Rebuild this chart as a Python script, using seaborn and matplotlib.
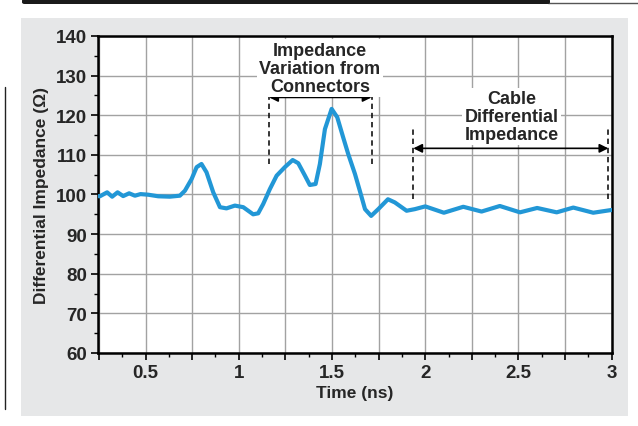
import matplotlib
matplotlib.use("Agg")
import matplotlib.pyplot as plt
import seaborn as sns
import pandas as pd
from matplotlib.patches import Rectangle, FancyBboxPatch
from matplotlib.lines import Line2D
from matplotlib.ticker import MultipleLocator, FuncFormatter

# TDR trace: time (ns) vs differential impedance (ohm)
time_ns = [0.245, 0.255, 0.294, 0.321, 0.35, 0.38, 0.412, 0.443, 0.473, 0.514,
           0.568, 0.63, 0.684, 0.711, 0.747, 0.774, 0.80, 0.827, 0.863, 0.899,
           0.934, 0.979, 1.024, 1.077, 1.104, 1.131, 1.167, 1.203, 1.247, 1.289,
           1.319, 1.355, 1.381, 1.412, 1.435, 1.462, 1.498, 1.528, 1.560, 1.587,
           1.623, 1.65, 1.677, 1.710, 1.748, 1.80, 1.837, 1.90, 1.944, 2.0,
           2.10, 2.204, 2.302, 2.40, 2.508, 2.60, 2.705, 2.794, 2.901, 3.0]
impedance = [99.6, 99.55, 100.55, 99.45, 100.55, 99.6, 100.3, 99.7, 100.1, 99.95,
             99.55, 99.45, 99.7, 100.95, 103.9, 106.9, 107.7, 105.6, 100.55, 96.8,
             96.5, 97.2, 96.8, 95.0, 95.25, 97.6, 101.4, 104.75, 106.9, 108.7,
             107.9, 104.75, 102.4, 102.65, 107.7, 116.5, 121.6, 119.5, 114.4, 110.2,
             105.2, 100.8, 96.3, 94.6, 96.3, 98.8, 98.0, 95.9, 96.3, 97.0,
             95.4, 96.9, 95.7, 97.1, 95.5, 96.6, 95.5, 96.7, 95.4, 96.1]

x_label = "Time (ns)"
y_label = "Differential Impedance (\u03a9)"
connector_label = "Impedance\nVariation from\nConnectors"
cable_label = "Cable\nDifferential\nImpedance"
connector_span = (1.163, 1.712)
cable_span = (1.936, 2.982)

sns.set_theme(style="white")
plt.rcParams["font.family"] = ["Liberation Sans", "DejaVu Sans"]

W, H = 638, 427
fig = plt.figure(figsize=(W / 100, H / 100), dpi=100)
fig.patch.set_facecolor("white")

def fx(px):
    return px / W

def fy(py):
    return 1 - py / H

# gray panel behind the chart
fig.patches.append(Rectangle((fx(21), fy(417)), fx(628) - fx(21), fy(19) - fy(417),
                             transform=fig.transFigure, facecolor="#e6e7e8",
                             edgecolor="none", zorder=-5))
# dark header strip
fig.patches.append(FancyBboxPatch((fx(22), fy(5)), fx(550) - fx(22), fy(0) - fy(5),
                                  boxstyle="round,pad=0,rounding_size=0.004",
                                  transform=fig.transFigure, facecolor="#1a1a1a",
                                  edgecolor="none", zorder=-4))
fig.lines.append(Line2D([fx(548), fx(638)], [fy(3.5), fy(3.5)], transform=fig.transFigure,
                        color="#555555", lw=1.0, zorder=-4))
# side rule
fig.lines.append(Line2D([fx(4.5), fx(4.5)], [fy(88), fy(410)], transform=fig.transFigure,
                        color="#222222", lw=1.0, zorder=-4))

ax = fig.add_axes([fx(98), fy(354), fx(611.7) - fx(98), fy(37) - fy(354)])
ax.set_facecolor("white")

df = pd.DataFrame({"t": time_ns, "z": impedance})
sns.lineplot(data=df, x="t", y="z", ax=ax, color="#2297d6", lw=3.0,
             solid_joinstyle="round", solid_capstyle="round", zorder=3)

ax.set_xlim(0.245, 3.0)
ax.set_ylim(60, 140)

ax.xaxis.set_major_locator(MultipleLocator(0.25))
ax.xaxis.set_minor_locator(MultipleLocator(0.125))
ax.yaxis.set_major_locator(MultipleLocator(10))
ax.yaxis.set_minor_locator(MultipleLocator(5))


def xfmt(v, pos):
    if abs(v * 2 - round(v * 2)) < 1e-6:
        return f"{v:g}"
    return ""


ax.xaxis.set_major_formatter(FuncFormatter(xfmt))
ax.yaxis.set_major_formatter(FuncFormatter(lambda v, p: f"{v:g}"))

ax.grid(True, which="major", color="#a2a2a2", lw=1.0, zorder=0)
ax.set_axisbelow(True)
for side in ["top", "right", "bottom", "left"]:
    ax.spines[side].set_visible(True)
    ax.spines[side].set_color("black")
    ax.spines[side].set_linewidth(1.8)

ax.tick_params(axis="both", which="major", direction="out", length=5, width=1.2,
               color="black", labelsize=13.5, pad=3,
               bottom=True, left=True, top=False, right=False)
ax.tick_params(axis="both", which="minor", direction="out", length=3, width=1.0,
               color="black", bottom=True, left=True, top=False, right=False)
for lbl in ax.get_xticklabels() + ax.get_yticklabels():
    lbl.set_fontweight("bold")

ax.set_xlabel(x_label, fontsize=12.5, fontweight="bold", labelpad=3)
ax.set_ylabel(y_label, fontsize=12.5, fontweight="bold", labelpad=5)

# span markers
dash = (0, (3.5, 2.5))
for x0 in connector_span:
    ax.plot([x0, x0], [107.7, 125.9], color="black", lw=1.1, ls=dash, zorder=4)
for x0 in cable_span:
    ax.plot([x0, x0], [98.9, 116.8], color="black", lw=1.1, ls=dash, zorder=4)

arrow = dict(arrowstyle="<|-|>", color="black", lw=1.2, mutation_scale=13,
             shrinkA=0, shrinkB=0)
ax.annotate("", xy=(connector_span[1], 124.5), xytext=(connector_span[0], 124.5),
            arrowprops=arrow, zorder=5)
ax.annotate("", xy=(cable_span[1], 111.65), xytext=(cable_span[0], 111.65),
            arrowprops=arrow, zorder=5)

box = dict(boxstyle="square,pad=0.15", facecolor="white", edgecolor="none")
ax.text(1.435, 131.9, connector_label, ha="center", va="center", fontsize=13,
        fontweight="bold", linespacing=1.08, bbox=box, zorder=6)
ax.text(2.463, 119.7, cable_label, ha="center", va="center", fontsize=13,
        fontweight="bold", linespacing=1.05, bbox=box, zorder=6)

fig.savefig("out.png", dpi=100)
